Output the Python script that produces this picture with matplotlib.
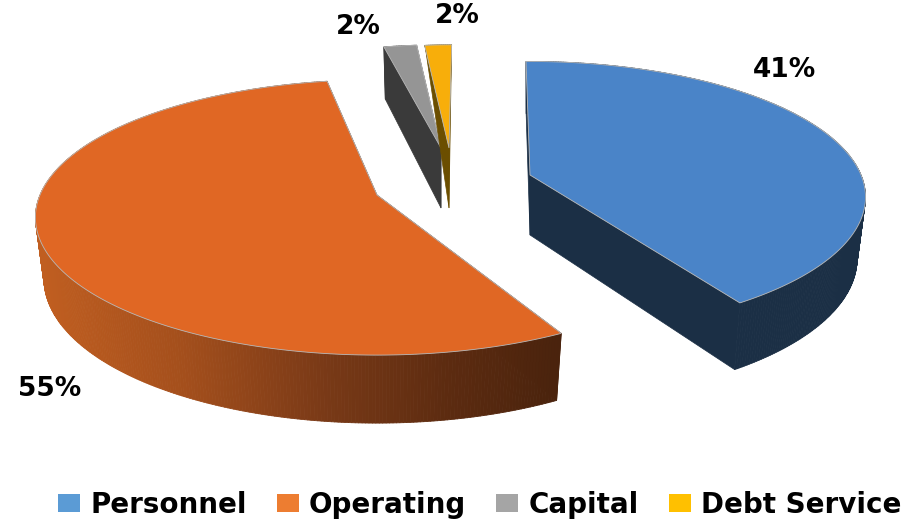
import numpy as np
import matplotlib
matplotlib.use("Agg")
import matplotlib.pyplot as plt
from matplotlib.collections import PolyCollection
from matplotlib.patches import Patch
from matplotlib.colors import to_rgb

# data
categories = ["Personnel", "Operating", "Capital", "Debt Service"]
values = [41, 55, 2, 2]

# style
top_colors = ["#4A84C8", "#E06724", "#959595", "#F8AE0A"]
legend_colors = ["#5B9BD5", "#ED7D31", "#A5A5A5", "#FFC000"]
side_stops = [
    [(0, "#1B2F45"), (907, "#1B2F45")],
    [(40, "#C05E20"), (180, "#A44F1C"), (320, "#7A3A17"), (450, "#5C2B10"), (560, "#4A230D")],
    [(0, "#3A3A3A"), (907, "#3A3A3A")],
    [(0, "#6B4E00"), (907, "#6B4E00")],
]
cut_colors = ["#1B2F45", "#4A230D", "#3A3A3A", "#6B4E00"]
apex = [(530, 175), (377, 195), (441, 148), (449, 148)]
radius_x = [331, 337, 306, 250]
radius_y = [132, 134, 120, 120]
rotation = [-0.8, 4.5, 1.9, 0.7]
rim_depth = [1.0, 1.0, 1.0, 0.03]
persp = 0.163
label_pos = [(785, 70), (50, 389), (358, 27), (457, 16)]

fig = plt.figure(figsize=(9.07, 5.2), dpi=100)
ax = fig.add_axes([0, 0, 1, 1])
ax.set_xlim(0, 907)
ax.set_ylim(520, 0)
ax.axis("off")


def project(i, x, y, lower=False):
    w = 1 + persp * y
    px = radius_x[i] * x / w
    py = radius_y[i] * y / w
    ax_, ay_ = apex[i]
    if lower:
        r = np.hypot(x, y)
        d = (60 - 8 * y) * (1 - (1 - rim_depth[i]) * r)
        return ax_ + 0.975 * px, ay_ - py + d
    return ax_ + px, ay_ - py


def side_color(i, xpos):
    xs = [s[0] for s in side_stops[i]]
    cs = np.array([to_rgb(s[1]) for s in side_stops[i]])
    return tuple(np.interp(xpos, xs, cs[:, k]) for k in range(3))


fractions = np.array(values) / sum(values)
bounds = np.concatenate([[0], np.cumsum(fractions) * 360])

for i in range(len(values)):
    a = np.radians(np.linspace(bounds[i] + rotation[i], bounds[i + 1] + rotation[i],
                               max(int(fractions[i] * 360 * 2), 6)))
    ux, uy = np.sin(a), np.cos(a)
    tx, ty = project(i, ux, uy)
    bx, by = project(i, ux, uy, lower=True)
    a0t, a0b = project(i, 0.0, 0.0), project(i, 0.0, 0.0, lower=True)

    # cut faces
    for k in (0, -1):
        ax.fill([a0t[0], tx[k], bx[k], a0b[0]], [a0t[1], ty[k], by[k], a0b[1]],
                color=cut_colors[i], lw=0.5, zorder=i * 4 + 1)
    # rim strips
    polys, cols = [], []
    for k in range(len(a) - 1):
        polys.append([(tx[k], ty[k]), (tx[k + 1], ty[k + 1]),
                      (bx[k + 1], by[k + 1]), (bx[k], by[k])])
        cols.append(side_color(i, 0.5 * (tx[k] + tx[k + 1])))
    ax.add_collection(PolyCollection(polys, facecolors=cols, edgecolors="face",
                                     linewidths=0.6, zorder=i * 4 + 2))
    # top face
    ax.fill(np.r_[a0t[0], tx], np.r_[a0t[1], ty], facecolor=top_colors[i],
            edgecolor="#B8B8B8", lw=0.6, joinstyle="miter", zorder=i * 4 + 3)

for v, (lx, ly) in zip(values, label_pos):
    ax.text(lx, ly, f"{v}%", ha="center", va="center", fontsize=19,
            fontweight="bold", family="DejaVu Sans", color="black")

handles = [Patch(facecolor=c, label=n) for c, n in zip(legend_colors, categories)]
leg = ax.legend(handles=handles, ncol=4, frameon=False, loc="lower left",
                bbox_to_anchor=(58 / 907, 1 / 520), borderaxespad=0, borderpad=0,
                prop={"family": "DejaVu Sans", "weight": "bold", "size": 20},
                handlelength=0.8, handleheight=0.6, handletextpad=0.36,
                columnspacing=1.08)

fig.savefig("out.png", dpi=100)
